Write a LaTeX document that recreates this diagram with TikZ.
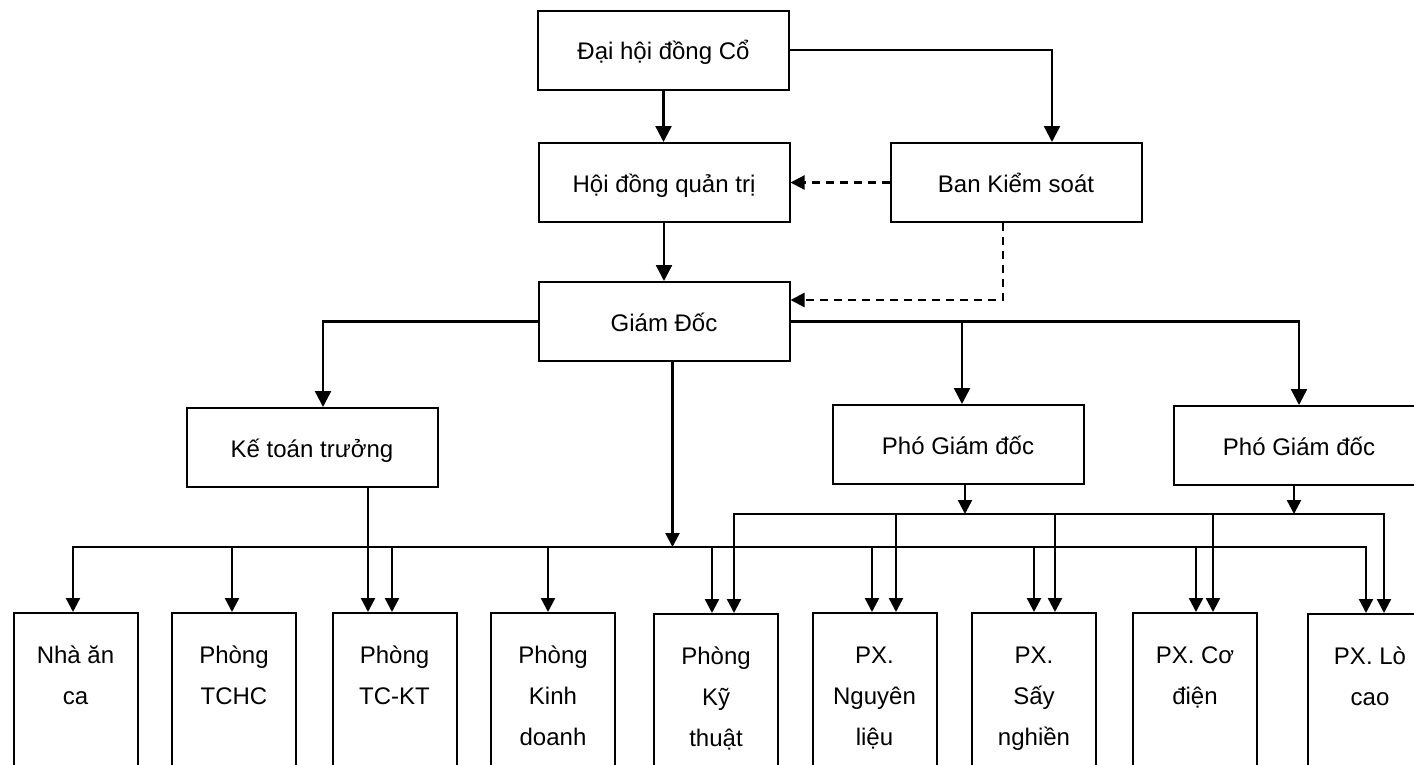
\documentclass[tikz,border=0pt]{standalone}
\usepackage{fontspec}
\setmainfont{Liberation Sans}
\usetikzlibrary{arrows.meta}
\newcommand\unitlabel[1]{\parbox[t][180pt][t]{124pt}{\centering\rule{0pt}{50pt}#1}}
\begin{document}
\begin{tikzpicture}[x=1pt,y=-1pt,
  box/.style={draw,line width=2pt,inner sep=0pt,minimum width=251pt,minimum height=79pt,
    text height=22pt,text depth=3pt,font=\fontsize{24}{29}\selectfont},
  unit/.style={draw,line width=2pt,inner sep=0pt,anchor=north,font=\fontsize{24}{41}\selectfont},
  arr/.style={line width=2.4pt,-{Triangle[width=14pt,length=14pt]}},
  bigarr/.style={line width=2.4pt,-{Triangle[width=16pt,length=16pt]}},
  barr/.style={line width=2.2pt,{Triangle[width=14pt,length=14pt]}-{Triangle[width=14pt,length=14pt]}},
  darr/.style={line width=2.2pt,dash pattern=on 8pt off 6pt,-{Triangle[width=14pt,length=14pt]}}
]
\fill[white] (0,0) rectangle (1414,764);
\clip (0,0) rectangle (1414,764);
\useasboundingbox (0,0) rectangle (1414,764);

% upper levels
\node[box] (dh)   at (663.5,50)  {Đại hội đồng Cổ};
\node[box] (hd)   at (664,182.5) {Hội đồng quản trị};
\node[box] (bks)  at (1016,182.5){Ban Kiểm soát};
\node[box] (gd)   at (664,321.5) {Giám Đốc};
\node[box] (ktt)  at (312,447.5) {Kế toán trưởng};
\node[box] (pgd1) at (958,444.5) {Phó Giám đốc};
\node[box] (pgd2) at (1299,445.5){Phó Giám đốc};

% units
\node[unit] (nha)  at (75.5,612) {\unitlabel{Nhà ăn\\ca}};
\node[unit] (tchc) at (234,612)  {\unitlabel{Phòng\\TCHC}};
\node[unit] (tckt) at (394.5,612){\unitlabel{Phòng\\TC-KT}};
\node[unit] (kd)   at (553,612)  {\unitlabel{Phòng\\Kinh\\doanh}};
\node[unit] (kt)   at (716,613)  {\unitlabel{Phòng\\Kỹ\\thuật}};
\node[unit] (nl)   at (874.5,612){\unitlabel{PX.\\Nguyên\\liệu}};
\node[unit] (sn)   at (1034,612) {\unitlabel{PX.\\Sấy\\nghiền}};
\node[unit] (cd)   at (1195,612) {\unitlabel{PX. Cơ\\điện}};
\node[unit] (lc)   at (1370,613) {\unitlabel{PX. Lò\\cao}};

\coordinate (busU) at (0,514);
\coordinate (busL) at (0,547);

% top connectors
\draw[bigarr] (dh.south) -- (dh.south |- hd.north);
\draw[bigarr] (dh.east) -| ([xshift=36pt]bks.north);
\draw[darr] (bks.west) -- (hd.east);
\draw[darr] ([xshift=-13pt]bks.south) |- ([yshift=21.5pt]gd.east);
\draw[bigarr] (hd.south) -- (gd.north);
\draw[bigarr] (gd.west) -| ([xshift=11pt]ktt.north);
\draw[bigarr] (gd.east) -| (pgd2.north);
\draw[bigarr] ([xshift=4pt]pgd1.north |- gd.east) -- ([xshift=4pt]pgd1.north);
\draw[arr] ([xshift=8.5pt]gd.south) -- ([xshift=8.5pt]gd.south |- busL);
\draw[arr] ([xshift=56pt]ktt.south) -- ([xshift=-26.5pt]tckt.north);
\draw[arr] ([xshift=7pt]pgd1.south) -- ([xshift=7pt]pgd1.south |- busU);
\draw[arr] ([xshift=-5pt]pgd2.south) -- ([xshift=-5pt]pgd2.south |- busU);

% lower bus (from Giám Đốc)
\draw[barr] ([xshift=-2.5pt]nha.north) -- ([xshift=-2.5pt]nha.north |- busL)
  -- ([xshift=-4pt]lc.north |- busL) -- ([xshift=-4pt]lc.north);
\foreach \n/\dx in {tchc/-2,tckt/-2.5,kd/-5,kt/-4,nl/-2.5,sn/0,cd/1}
  \draw[arr] ([xshift=\dx pt]\n.north |- busL) -- ([xshift=\dx pt]\n.north);

% upper bus (from Phó Giám đốc)
\draw[barr] ([xshift=18pt]kt.north) -- ([xshift=18pt]kt.north |- busU)
  -- ([xshift=14pt]lc.north |- busU) -- ([xshift=14pt]lc.north);
\foreach \n/\dx in {nl/21.5,sn/21,cd/18}
  \draw[arr] ([xshift=\dx pt]\n.north |- busU) -- ([xshift=\dx pt]\n.north);
\end{tikzpicture}
\end{document}
